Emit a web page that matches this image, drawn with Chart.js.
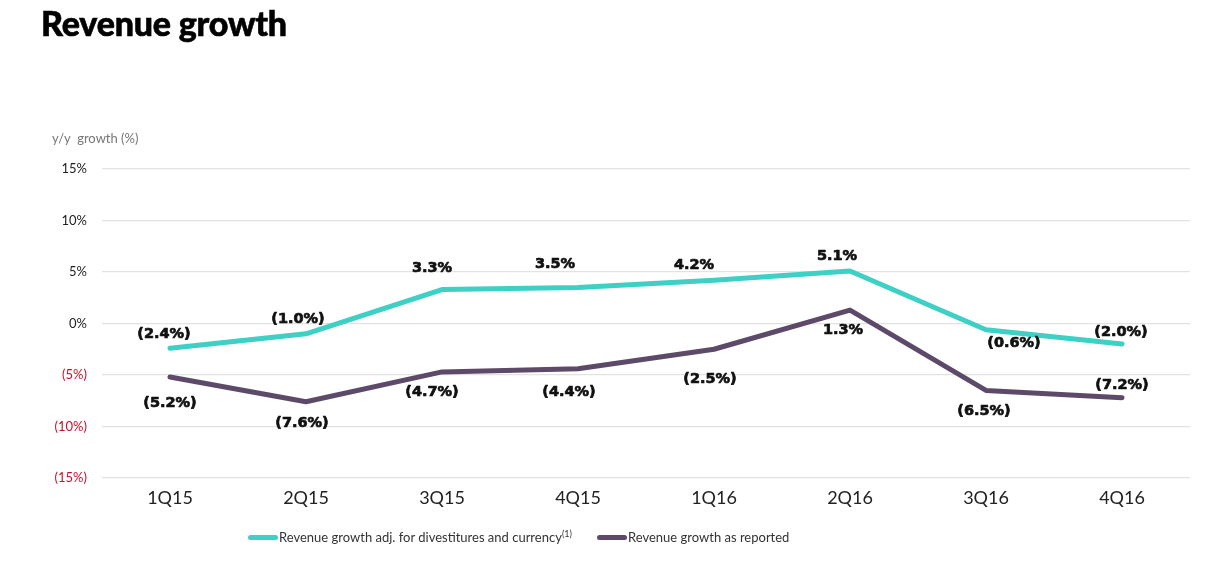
<!DOCTYPE html>
<html>
<head>
<meta charset="utf-8">
<script src="https://cdn.jsdelivr.net/npm/chart.js@4.4.1/dist/chart.umd.min.js"></script>
<style>
  html, body { margin: 0; padding: 0; background: #fff; }
  #wrap { position: relative; width: 1216px; height: 575px; overflow: hidden; font-family: Lato, "DejaVu Sans", sans-serif; }
  #title { position: absolute; left: 41px; top: 2px; font-size: 34px; font-weight: 900; color: #000; letter-spacing: -0.2px; -webkit-text-stroke: 0.6px #000; }
  #ytitle { position: absolute; left: 52px; top: 130px; font-size: 13px; color: #777; }
  #legend { position: absolute; left: 248px; top: 528px; font-size: 13px; color: #333; white-space: nowrap; }
  #legend .item { position: absolute; top: 0; height: 18px; line-height: 18px; }
  #legend .sw { display: inline-block; width: 30px; height: 5px; border-radius: 3px; vertical-align: middle; margin-right: 1px; position: relative; top: -1px; }
  #legend sup { font-size: 9px; vertical-align: 5px; line-height: 0; }
  canvas { position: absolute; left: 0; top: 0; }
</style>
</head>
<body>
<div id="wrap">
  <canvas id="c" width="1216" height="575"></canvas>
  <div id="title">Revenue growth</div>
  <div id="ytitle">y/y&nbsp; growth (%)</div>
  <div id="legend">
    <div class="item" style="left:0px"><span class="sw" style="background:#3ECFC5"></span>Revenue growth adj. for divestitures and currency<sup>(1)</sup></div>
    <div class="item" style="left:349px"><span class="sw" style="background:#5D4A68"></span>Revenue growth as reported</div>
  </div>
</div>
<script>
// ---- data ----
const categories = ["1Q15", "2Q15", "3Q15", "4Q15", "1Q16", "2Q16", "3Q16", "4Q16"];
const adjustedGrowth = [-2.4, -1.0, 3.3, 3.5, 4.2, 5.1, -0.6, -2.0];
const reportedGrowth = [-5.2, -7.6, -4.7, -4.4, -2.5, 1.3, -6.5, -7.2];
const yTicks = [-15, -10, -5, 0, 5, 10, 15];

// ---- label placement (style, not data) ----
const labelOffsets = [
  { dx: [-6, -8, -10, -23, -20, -13, 28, -1], dy: [-14, -15, -21, -23, -15, -15, 14, -12] },
  { dx: [0, -4, -10, -9, -4, -7, -2, 0], dy: [26, 21, 20, 23, 30, 20, 21, -12] }
];

function fmtPct(v, digits) {
  const s = Math.abs(v).toFixed(digits) + "%";
  return v < 0 ? "(" + s + ")" : s;
}

const pointLabels = {
  id: "pointLabels",
  afterDatasetsDraw(chart) {
    const ctx = chart.ctx;
    ctx.save();
    ctx.font = "bold 14.5px 'DejaVu Sans', sans-serif";
    ctx.fillStyle = "#111";
    ctx.strokeStyle = "#111";
    ctx.lineWidth = 0.7;
    ctx.lineJoin = "round";
    ctx.textAlign = "center";
    ctx.textBaseline = "middle";
    chart.data.datasets.forEach((ds, di) => {
      const meta = chart.getDatasetMeta(di);
      meta.data.forEach((pt, i) => {
        const off = labelOffsets[di];
        const t = fmtPct(ds.data[i], 1);
        ctx.fillText(t, pt.x + off.dx[i], pt.y + off.dy[i]);
        ctx.strokeText(t, pt.x + off.dx[i], pt.y + off.dy[i]);
      });
    });
    ctx.restore();
  }
};

new Chart(document.getElementById("c"), {
  type: "line",
  data: {
    labels: categories,
    datasets: [
      { label: "Revenue growth adj. for divestitures and currency", data: adjustedGrowth,
        borderColor: "#3ECFC5", backgroundColor: "#3ECFC5", borderWidth: 5, pointRadius: 0,
        tension: 0, borderCapStyle: "round", borderJoinStyle: "round" },
      { label: "Revenue growth as reported", data: reportedGrowth,
        borderColor: "#5D4A68", backgroundColor: "#5D4A68", borderWidth: 5, pointRadius: 0,
        tension: 0, borderCapStyle: "round", borderJoinStyle: "round" }
    ]
  },
  options: {
    responsive: false,
    animation: false,
    layout: { padding: { top: 169, right: 26, bottom: 57, left: 0 } },
    plugins: { legend: { display: false }, tooltip: { enabled: false } },
    scales: {
      x: {
        offset: true,
        grid: { display: false, drawTicks: false },
        border: { display: false },
        ticks: { color: "#222", font: { family: "Lato", size: 18 }, padding: 9 },
        afterFit(s) { s.height = 40; }
      },
      y: {
        min: -15, max: 15,
        afterBuildTicks(s) { s.ticks = yTicks.map(v => ({ value: v })); },
        grid: { color: "#e2e2e2", lineWidth: 1.2, drawTicks: false },
        border: { display: false },
        ticks: {
          padding: 15,
          font: { family: "Lato", size: 13 },
          color: (c) => (c.tick && c.tick.value < 0 ? "#C8102E" : "#222"),
          callback: (v) => fmtPct(v, 0)
        },
        afterFit(s) { s.width = 102; s.paddingTop = 0; s.paddingBottom = 0; }
      }
    }
  },
  plugins: [pointLabels]
});
</script>
</body>
</html>
